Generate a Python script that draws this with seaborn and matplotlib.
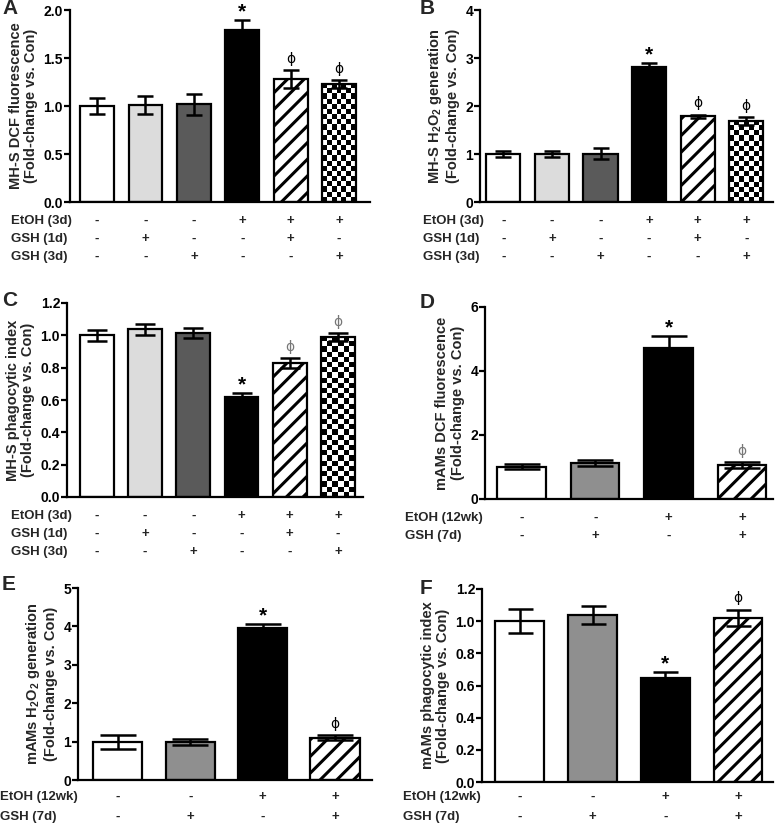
import numpy as np
import pandas as pd
import matplotlib
matplotlib.use("Agg")
import matplotlib.pyplot as plt
import seaborn as sns

sns.set_theme(style="ticks")
plt.rcParams['font.family'] = ['Liberation Sans', 'DejaVu Sans']
plt.rcParams['font.weight'] = 'bold'
plt.rcParams['axes.labelweight'] = 'bold'
plt.rcParams['mathtext.fontset'] = 'custom'
plt.rcParams['mathtext.rm'] = 'Liberation Sans:bold'
plt.rcParams['mathtext.bf'] = 'Liberation Sans:bold'
plt.rcParams['mathtext.default'] = 'bf'
plt.rcParams['hatch.linewidth'] = 2.2

# ---------------- data ----------------
groups6 = ["Con", "GSH1d", "GSH3d", "EtOH", "EtOH+GSH1d", "EtOH+GSH3d"]
groups4 = ["Con", "GSH", "EtOH", "EtOH+GSH"]

a_vals = [1.00, 1.01, 1.02, 1.79, 1.28, 1.23]
a_err = [0.085, 0.09, 0.11, 0.105, 0.09, 0.04]
b_vals = [1.00, 1.00, 1.01, 2.82, 1.79, 1.69]
b_err = [0.07, 0.07, 0.11, 0.08, 0.03, 0.08]
c_vals = [1.00, 1.037, 1.014, 0.617, 0.83, 0.99]
c_err = [0.034, 0.034, 0.031, 0.025, 0.03, 0.025]
d_vals = [1.01, 1.12, 4.72, 1.07]
d_err = [0.07, 0.09, 0.37, 0.09]
e_vals = [1.00, 1.00, 3.95, 1.10]
e_err = [0.18, 0.08, 0.12, 0.07]
f_vals = [1.00, 1.04, 0.645, 1.02]
f_err = [0.073, 0.055, 0.037, 0.052]

rows6_labels = ["EtOH (3d)", "GSH (1d)", "GSH (3d)"]
rows6_signs = [["-", "-", "-", "+", "+", "+"],
               ["-", "+", "-", "-", "+", "-"],
               ["-", "-", "+", "-", "-", "+"]]
rows4_labels = ["EtOH (12wk)", "GSH (7d)"]
rows4_signs = [["-", "-", "+", "+"],
               ["-", "+", "-", "+"]]

a_marks = ["", "", "", "*", "ϕ", "ϕ"]
c_marks = a_marks
d_marks = ["", "", "*", "ϕ"]

a_ylabel = "MH-S DCF fluorescence\n(Fold-change vs. Con)"
b_ylabel = "MH-S H$_2$O$_2$ generation\n(Fold-change vs. Con)"
c_ylabel = "MH-S phagocytic index\n(Fold-change vs. Con)"
d_ylabel = "mAMs DCF fluorescence\n(Fold-change vs. Con)"
e_ylabel = "mAMs H$_2$O$_2$ generation\n(Fold-change vs. Con)"
f_ylabel = "mAMs phagocytic index\n(Fold-change vs. Con)"

a_ticks = [0.0, 0.5, 1.0, 1.5, 2.0]
b_ticks = [0, 1, 2, 3, 4]
c_ticks = [0.0, 0.2, 0.4, 0.6, 0.8, 1.0, 1.2]
d_ticks = [0, 2, 4, 6]
e_ticks = [0, 1, 2, 3, 4, 5]
f_ticks = [0.0, 0.2, 0.4, 0.6, 0.8, 1.0, 1.2]

# styles
colors6 = ["#ffffff", "#dcdcdc", "#5a5a5a", "#000000", "#ffffff", "#ffffff"]
hatch6 = [None, None, None, None, "//", "checker"]
colors4 = ["#ffffff", "#8f8f8f", "#000000", "#ffffff"]
hatch4 = [None, None, None, "//"]

W, H = 777, 826
fig = plt.figure(figsize=(W / 100, H / 100), dpi=100)


def add_axes(left, right, top, bottom):
    return fig.add_axes([left / W, 1 - bottom / H, (right - left) / W, (bottom - top) / H])


def panel(ax, groups, vals, errs, colors, hatches, ticks, fmt, ylabel, xlim,
          width, capsize, marks, mark_colors, letter, letter_x, letter_y, row_labels,
          row_signs, row_offsets, label_x):
    df = pd.DataFrame({"group": groups, "value": vals})
    sns.barplot(data=df, x="group", y="value", hue="group", palette=colors,
                legend=False, width=width, edgecolor="black", linewidth=1.6,
                saturation=1, ax=ax, errorbar=None)
    ax.set_xlim(*xlim)
    ax.set_ylim(ticks[0], ticks[-1])
    ax.set_yticks(ticks)
    ax.set_yticklabels([fmt.format(t) for t in ticks], fontsize=10, fontweight="bold")
    ax.set_xticks([])
    ax.set_xlabel("")
    ax.set_ylabel(ylabel, fontsize=10.5, fontweight="bold", labelpad=4, linespacing=1.12)
    for s in ["top", "right"]:
        ax.spines[s].set_visible(False)
    for s in ["left", "bottom"]:
        ax.spines[s].set_linewidth(1.6)
        ax.spines[s].set_color("black")
    ax.tick_params(axis="y", direction="out", length=4, width=1.6, pad=1, colors="black")
    ax.patch.set_alpha(0)

    bars = [p for p in ax.patches]
    x = np.arange(len(groups))
    ax.errorbar(x, vals, yerr=errs, fmt="none", ecolor="black", elinewidth=1.8,
                capsize=capsize, capthick=1.8, zorder=5)

    fig.canvas.draw()
    for p, h in zip(bars, hatches):
        if h is None:
            continue
        if h == "checker":
            p.set_facecolor("none")
            x0, w, hh = p.get_x(), p.get_width(), p.get_height()
            (px0, py0) = ax.transData.transform((x0, 0))
            (px1, py1) = ax.transData.transform((x0 + w, hh))
            ncol = max(1, int(round((px1 - px0) / 5.2)))
            nrow = max(1, int(round((py1 - py0) / 5.2)))
            ii, jj = np.indices((nrow, ncol))
            board = ((ii + jj) % 2).astype(float)
            im = ax.imshow(board, cmap="gray", extent=[x0, x0 + w, 0, hh],
                           aspect="auto", interpolation="nearest", zorder=0.9,
                           origin="lower")
            im.set_clip_path(p)
        else:
            p.set_hatch(h)
    ax.set_xlim(*xlim)
    ax.set_ylim(ticks[0], ticks[-1])

    for i, (m, mc) in enumerate(zip(marks, mark_colors)):
        if not m:
            continue
        if m == "*":
            ax.annotate(m, xy=(i, vals[i] + errs[i]), xytext=(0, -1),
                        textcoords="offset points", ha="center", va="bottom",
                        fontsize=15, fontweight="bold", color=mc)
        else:
            ax.annotate(m, xy=(i, vals[i] + errs[i]), xytext=(0, 3),
                        textcoords="offset points", ha="center", va="bottom",
                        fontsize=10, fontweight="normal", color=mc,
                        family=["DejaVu Sans"])

    fig.text(letter_x / W, 1 - letter_y / H, letter, fontsize=15,
             fontweight="bold", ha="left", va="center")

    for lab, signs, off in zip(row_labels, row_signs, row_offsets):
        ax.annotate(lab, xy=(label_x / W, 0), xycoords=("figure fraction", "axes fraction"),
                    xytext=(0, -off * 0.72), textcoords="offset points",
                    ha="left", va="center", fontsize=9.5, fontweight="bold")
        for i, s in enumerate(signs):
            ax.annotate(s, xy=(i, 0), xycoords=("data", "axes fraction"),
                        xytext=(0, -off * 0.72), textcoords="offset points",
                        ha="center", va="center", fontsize=9.5, fontweight="bold")


axA = add_axes(70, 370, 10, 202)
axB = add_axes(480, 773, 10, 202)
axC = add_axes(67, 363, 303, 497)
axD = add_axes(485, 773, 307, 499)
axE = add_axes(78, 372, 588, 780)
axF = add_axes(482, 773, 589, 782)

gray_mark = "#777777"
panel(axA, groups6, a_vals, a_err, colors6, hatch6, a_ticks, "{:.1f}", a_ylabel,
      (-0.56, 5.64), 0.7, 6, a_marks, ["black"] * 6, "A", 2, 9,
      rows6_labels, rows6_signs, [19, 37, 55], 11)
panel(axB, groups6, b_vals, b_err, colors6, hatch6, b_ticks, "{:.0f}", b_ylabel,
      (-0.48, 5.55), 0.7, 6, a_marks, ["black"] * 6, "B", 420, 9,
      rows6_labels, rows6_signs, [19, 37, 55], 423)
panel(axC, groups6, c_vals, c_err, colors6, hatch6, c_ticks, "{:.1f}", c_ylabel,
      (-0.62, 5.52), 0.7, 7.5, c_marks, ["black"] * 3 + ["black", gray_mark, gray_mark], "C", 2, 300,
      rows6_labels, rows6_signs, [19, 37, 55], 11)
panel(axD, groups4, d_vals, d_err, colors4, hatch4, d_ticks, "{:.0f}", d_ylabel,
      (-0.5, 3.42), 0.66, 13, d_marks, ["black", "black", "black", gray_mark], "D", 420, 302,
      rows4_labels, rows4_signs, [19, 37], 405)
panel(axE, groups4, e_vals, e_err, colors4, hatch4, e_ticks, "{:.0f}", e_ylabel,
      (-0.55, 3.51), 0.68, 13, d_marks, ["black"] * 4, "E", 2, 585,
      rows4_labels, rows4_signs, [17, 37], 0)
panel(axF, groups4, f_vals, f_err, colors4, hatch4, f_ticks, "{:.1f}", f_ylabel,
      (-0.52, 3.48), 0.67, 9, d_marks, ["black"] * 4, "F", 420, 588,
      rows4_labels, rows4_signs, [15, 35], 403)

fig.savefig("out.png", dpi=100, facecolor="white")
